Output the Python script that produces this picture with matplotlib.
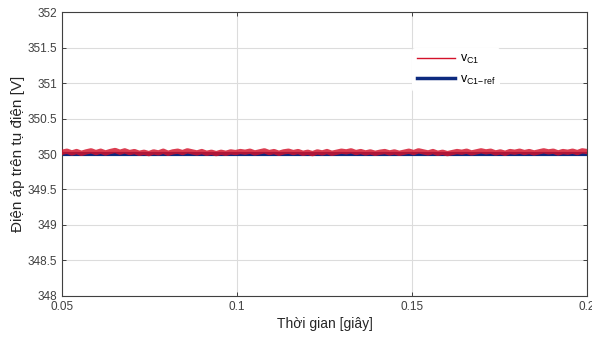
import numpy as np
import matplotlib
matplotlib.use('Agg')
from matplotlib import pyplot as plt

plt.rcParams['font.family'] = ['Liberation Sans', 'DejaVu Sans']
plt.rcParams['mathtext.default'] = 'regular'

# do thi dien ap tu C1 (doc tu hinh)
t_start = 0.05
t_end = 0.2
vc1 = [350.025, 350.040, 350.015, 350.035, 350.010, 350.030, 350.045, 350.020, 350.040, 350.015,
       350.035, 350.050, 350.025, 350.045, 350.020, 350.035, 350.010, 350.025, 350.005, 350.030,
       350.015, 350.040, 350.010, 350.030, 350.040, 350.020, 350.045, 350.030, 350.015, 350.035,
       350.010, 350.025, 350.005, 350.025, 350.010, 350.030, 350.020, 350.035, 350.025, 350.040,
       350.015, 350.030, 350.045, 350.020, 350.035, 350.010, 350.030, 350.040, 350.020, 350.035,
       350.010, 350.025, 350.005, 350.030, 350.015, 350.035, 350.010, 350.025, 350.040, 350.030,
       350.045, 350.020, 350.035, 350.015, 350.030, 350.010, 350.025, 350.035, 350.015, 350.030,
       350.010, 350.025, 350.040, 350.020, 350.045, 350.030, 350.015, 350.035, 350.010, 350.025,
       350.005, 350.020, 350.035, 350.025, 350.040, 350.015, 350.030, 350.045, 350.030, 350.040,
       350.015, 350.030, 350.010, 350.035, 350.025, 350.040, 350.020, 350.035, 350.015, 350.030,
       350.045, 350.030, 350.040, 350.015, 350.035, 350.025, 350.040, 350.020, 350.045, 350.035]
vc1_ref = 350.0

x_ticks = [0.05, 0.1, 0.15, 0.2]
x_labels = ['0.05', '0.1', '0.15', '0.2']
y_ticks = [348, 348.5, 349, 349.5, 350, 350.5, 351, 351.5, 352]
y_labels = ['348', '348.5', '349', '349.5', '350', '350.5', '351', '351.5', '352']

fig = plt.figure(figsize=(5.92, 3.37), dpi=100)
ax = fig.add_axes([0.105, 0.122, 0.8866, 0.842])

t = np.linspace(t_start, t_end, len(vc1))
ax.plot([t_start, t_end], [vc1_ref, vc1_ref], color='#0d2a7f', linewidth=3.0,
        label=r'v$_{C1\!-\!ref}$', zorder=2)
ax.plot(t, vc1, color='#d4122a', linewidth=3.8, alpha=0.82, label='v$_{C1}$', zorder=3)

ax.set_xlim(t_start, t_end)
ax.set_ylim(348, 352)
ax.set_xticks(x_ticks)
ax.set_xticklabels(x_labels)
ax.set_yticks(y_ticks)
ax.set_yticklabels(y_labels)
ax.grid(True, color='#dcdcdc', linewidth=0.8)
ax.set_axisbelow(True)
ax.tick_params(direction='in', length=3, width=0.6, colors='#262626', labelsize=8.5,
               top=True, right=True, labelcolor='#404040')
for s in ax.spines.values():
    s.set_color('#404040')
    s.set_linewidth(0.8)

ax.set_xlabel('Thời gian [giây]', fontsize=10, color='#262626', labelpad=3)
ax.set_ylabel('Điện áp trên tụ điện [V]', fontsize=11, color='#262626', labelpad=2)

h, l = ax.get_legend_handles_labels()
leg = ax.legend([h[1], h[0]], [l[1], l[0]], loc='upper left', bbox_to_anchor=(0.655, 0.895),
                frameon=True, fontsize=9, handlelength=3.0, labelspacing=0.6, handletextpad=0.4)
leg.get_frame().set_edgecolor('none')
leg.get_frame().set_facecolor('white')
leg.get_frame().set_alpha(1)
leg.get_lines()[0].set_linewidth(1.0)
leg.get_lines()[0].set_alpha(1)
leg.get_lines()[1].set_linewidth(2.5)

fig.savefig('out.png', dpi=100, facecolor='white')
